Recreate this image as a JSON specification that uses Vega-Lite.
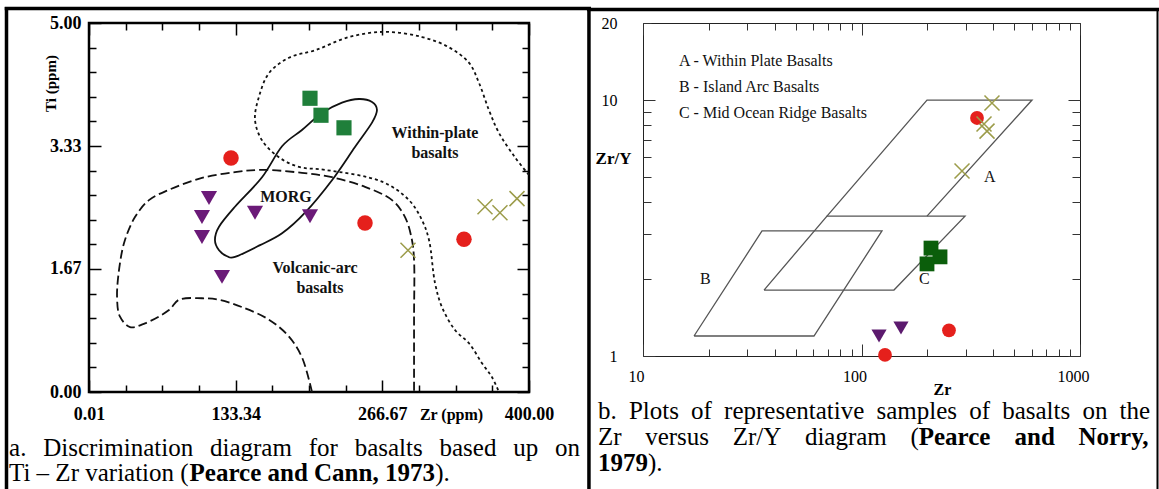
{
  "$schema": "https://vega.github.io/schema/vega-lite/v6.json",
  "padding": {"left": 1, "top": 3, "right": 0, "bottom": 0},
  "background": "white",
  "bounds": "flush",
  "spacing": 114,
  "config": {"view": {"stroke": null}, "font": "Liberation Serif", "axis": {"grid": false}},
  "datasets": {
    "curvesA": [
      {"c":"wp","i":1,"x":400,"y":2.94},{"c":"wp","i":2,"x":387.3,"y":3.18},{"c":"wp","i":3,"x":372.7,"y":3.51},{"c":"wp","i":4,"x":363.6,"y":3.82},{"c":"wp","i":5,"x":354.5,"y":4.19},{"c":"wp","i":6,"x":345.5,"y":4.46},{"c":"wp","i":7,"x":327.3,"y":4.67},{"c":"wp","i":8,"x":302.7,"y":4.81},{"c":"wp","i":9,"x":269.1,"y":4.88},{"c":"wp","i":10,"x":236.4,"y":4.81},{"c":"wp","i":11,"x":205.5,"y":4.63},{"c":"wp","i":12,"x":181.8,"y":4.53},{"c":"wp","i":13,"x":163.6,"y":4.32},{"c":"wp","i":14,"x":154.5,"y":4.0},{"c":"wp","i":15,"x":150.9,"y":3.69},{"c":"wp","i":16,"x":157.3,"y":3.41},{"c":"wp","i":17,"x":172.7,"y":3.18},{"c":"wp","i":18,"x":190.9,"y":3.05},{"c":"wp","i":19,"x":214.5,"y":3.01},{"c":"wp","i":20,"x":266.4,"y":2.85},{"c":"wp","i":21,"x":290.9,"y":2.6},{"c":"wp","i":22,"x":302.7,"y":2.33},{"c":"wp","i":23,"x":309.1,"y":2.06},{"c":"wp","i":24,"x":314.5,"y":1.48},{"c":"wp","i":25,"x":320.9,"y":1.15},{"c":"wp","i":26,"x":332.7,"y":0.84},{"c":"wp","i":27,"x":345.5,"y":0.66},{"c":"wp","i":28,"x":357.3,"y":0.39},{"c":"wp","i":29,"x":366.4,"y":0.2},{"c":"wp","i":30,"x":372.7,"y":0},
      {"c":"va","i":1,"x":202.7,"y":0},{"c":"va","i":2,"x":193.6,"y":0.47},{"c":"va","i":3,"x":181.8,"y":0.75},{"c":"va","i":4,"x":163.6,"y":0.98},{"c":"va","i":5,"x":139.1,"y":1.15},{"c":"va","i":6,"x":118.2,"y":1.25},{"c":"va","i":7,"x":102.7,"y":1.27},{"c":"va","i":8,"x":81.8,"y":1.25},{"c":"va","i":9,"x":72.7,"y":1.11},{"c":"va","i":10,"x":50.9,"y":0.93},{"c":"va","i":11,"x":37.3,"y":0.88},{"c":"va","i":12,"x":28.2,"y":1.02},{"c":"va","i":13,"x":25.5,"y":1.29},{"c":"va","i":14,"x":28.2,"y":1.75},{"c":"va","i":15,"x":32.7,"y":2.06},{"c":"va","i":16,"x":41.8,"y":2.37},{"c":"va","i":17,"x":54.5,"y":2.6},{"c":"va","i":18,"x":72.7,"y":2.74},{"c":"va","i":19,"x":102.7,"y":2.9},{"c":"va","i":20,"x":132.7,"y":2.98},{"c":"va","i":21,"x":157.3,"y":3.01},{"c":"va","i":22,"x":193.6,"y":2.97},{"c":"va","i":23,"x":220.9,"y":2.91},{"c":"va","i":24,"x":250.9,"y":2.78},{"c":"va","i":25,"x":275.5,"y":2.6},{"c":"va","i":26,"x":287.3,"y":2.37},{"c":"va","i":27,"x":293.6,"y":2.06},{"c":"va","i":28,"x":295.5,"y":1.79},{"c":"va","i":29,"x":295.5,"y":1.0},{"c":"va","i":30,"x":295.5,"y":0}
    ],
    "morbA": [
      {"i":1,"x":261.8,"y":3.82},{"i":2,"x":257.3,"y":3.93},{"i":3,"x":245.5,"y":3.97},{"i":4,"x":230.0,"y":3.92},{"i":5,"x":211.8,"y":3.78},{"i":6,"x":193.6,"y":3.55},{"i":7,"x":175.5,"y":3.33},{"i":8,"x":157.3,"y":2.91},{"i":9,"x":132.7,"y":2.51},{"i":10,"x":118.2,"y":2.24},{"i":11,"x":114.5,"y":2.06},{"i":12,"x":118.2,"y":1.92},{"i":13,"x":125.5,"y":1.84},{"i":14,"x":132.7,"y":1.83},{"i":15,"x":155.5,"y":1.99},{"i":16,"x":175.5,"y":2.15},{"i":17,"x":196.4,"y":2.43},{"i":18,"x":220.9,"y":2.87},{"i":19,"x":241.8,"y":3.32},{"i":20,"x":257.3,"y":3.65}
    ],
    "ptsA": [
      {"t":"circle","x":129.1,"y":3.17},{"t":"circle","x":250.9,"y":2.29},{"t":"circle","x":340.9,"y":2.07},
      {"t":"square","x":200.9,"y":3.98},{"t":"square","x":210.9,"y":3.75},{"t":"square","x":231.8,"y":3.58},
      {"t":"tri","x":109.1,"y":2.63},{"t":"tri","x":102.7,"y":2.37},{"t":"tri","x":150.9,"y":2.43},{"t":"tri","x":102.7,"y":2.1},{"t":"tri","x":200.9,"y":2.38},{"t":"tri","x":120.9,"y":1.56},
      {"t":"cross","x":290.0,"y":1.92},{"t":"cross","x":360.0,"y":2.51},{"t":"cross","x":373.6,"y":2.43},{"t":"cross","x":389.1,"y":2.62}
    ],
    "labA": [
      {"s":"Within-plate","x":314.5,"y":3.51},{"s":"basalts","x":314.5,"y":3.24},{"s":"MORG","x":179,"y":2.64},{"s":"Volcanic-arc","x":205.5,"y":1.68},{"s":"basalts","x":210,"y":1.41}
    ],
    "borderA": [
      {"x":-75,"x2":-75,"y":5.217,"y2":-1.5},{"x":-76.6,"x2":456.4,"y":5.197,"y2":5.197},{"x":454.5,"x2":454.5,"y":5.217,"y2":-1.5}
    ],
    "capA": [
      {"s":"a.","x":-72.7,"y":-0.867},{"s":"Discrimination","x":-41.6,"y":-0.867},{"s":"diagram","x":110,"y":-0.867},{"s":"for","x":199.7,"y":-0.867},{"s":"basalts","x":241.5,"y":-0.867},{"s":"based","x":318.6,"y":-0.867},{"s":"up","x":385.6,"y":-0.867},{"s":"on","x":423.6,"y":-0.867},
      {"s":"Ti – Zr variation (","x":-72.7,"y":-1.206},{"s":").","x":314.8,"y":-1.206}
    ],
    "capAb": [
      {"s":"Pearce and Cann, 1973","x":91.4,"y":-1.206}
    ],
    "polyB": [
      {"p":"A","i":1,"x":69.5,"y":3.52},{"p":"A","i":2,"x":199.4,"y":10},{"p":"A","i":3,"x":603,"y":10},{"p":"A","i":4,"x":199.4,"y":3.52},
      {"p":"B","i":1,"x":17.12,"y":1.197},{"p":"B","i":2,"x":35.05,"y":3.08},{"p":"B","i":3,"x":124.1,"y":3.08},{"p":"B","i":4,"x":60.6,"y":1.197},{"p":"B","i":5,"x":17.12,"y":1.197},
      {"p":"C","i":1,"x":35.8,"y":1.81},{"p":"C","i":2,"x":69.5,"y":3.52},{"p":"C","i":3,"x":297.6,"y":3.52},{"p":"C","i":4,"x":140.8,"y":1.81},{"p":"C","i":5,"x":35.8,"y":1.81}
    ],
    "ptsB": [
      {"t":"cross","x":395.5,"y":9.73},{"t":"cross","x":363.7,"y":8.06},{"t":"cross","x":375.4,"y":7.56},{"t":"cross","x":288.4,"y":5.28},
      {"t":"circle","x":337.8,"y":8.51},{"t":"circle","x":251.4,"y":1.26},{"t":"circle","x":128.1,"y":1.01},
      {"t":"square","x":208,"y":2.64},{"t":"square","x":228.7,"y":2.44},{"t":"square","x":199.4,"y":2.29},
      {"t":"tri","x":120.3,"y":1.197},{"t":"tri","x":151.6,"y":1.287}
    ],
    "labB": [
      {"s":"A - Within Plate Basalts","x":14.6,"y":14.2},{"s":"B - Island Arc Basalts","x":14.6,"y":11.24},{"s":"C - Mid Ocean Ridge Basalts","x":14.6,"y":8.897},
      {"s":"A","x":363.6,"y":5.003},{"s":"B","x":18.24,"y":2.0},{"s":"C","x":183.4,"y":2.0}
    ],
    "borderB": [
      {"side":"top","x":5.54,"x2":2299,"y":22.57,"y2":22.57},{"side":"right","x":2263,"x2":2263,"y":22.9,"y2":0.264}
    ],
    "capB": [
      {"s":"b.","x":6.226,"y":0.5675},{"s":"Plots","x":8.62,"y":0.5675},{"s":"of","x":16.6,"y":0.5675},{"s":"representative","x":23.51,"y":0.5675},{"s":"samples","x":117.1,"y":0.5675},{"s":"of","x":311.4,"y":0.5675},{"s":"basalts","x":440.5,"y":0.5675},{"s":"on","x":1025.6,"y":0.5675},{"s":"the","x":1518,"y":0.5675},
      {"s":"Zr","x":6.226,"y":0.449},{"s":"versus","x":10.23,"y":0.449},{"s":"Zr/Y","x":25.73,"y":0.449},{"s":"diagram","x":55.08,"y":0.449},{"s":"(","x":167.4,"y":0.449},
      {"s":").","x":10.54,"y":0.3554}
    ],
    "capBb": [
      {"s":"Pearce","x":182.7,"y":0.449},{"s":"and","x":501.5,"y":0.449},{"s":"Norry,","x":983.3,"y":0.449},{"s":"1979","x":6.226,"y":0.3554}
    ]
  },
  "hconcat": [
    {
      "width": 440,
      "height": 369,
      "view": {"stroke": "black", "strokeWidth": 2.5},
      "resolve": {"axis": {"x": "independent", "y": "independent"}},
      "layer": [
        {
          "data": {"name": "curvesA"},
          "mark": {"type": "line", "interpolate": "catmull-rom", "color": "#111", "strokeWidth": 1.8, "clip": true},
          "encoding": {
            "x": {"field": "x", "type": "quantitative", "scale": {"domain": [0, 400], "nice": false, "zero": false},
              "axis": {"orient": "bottom", "values": [0.01, 133.34, 266.67, 400], "format": ".2f", "ticks": false, "tickSize": 0, "domain": false, "grid": false,
                "labelFont": "Liberation Serif", "labelFontWeight": "bold", "labelFontSize": 18, "labelColor": "black", "labelPadding": 13, "labelFlush": false, "labelOverlap": false,
                "title": "Zr (ppm)", "titleFont": "Liberation Serif", "titleFontWeight": "bold", "titleFontSize": 16, "titleColor": "black", "titleX": 362, "titleY": 22, "titleAlign": "center", "titleBaseline": "middle"}},
            "y": {"field": "y", "type": "quantitative", "scale": {"domain": [0, 5], "nice": false, "zero": false},
              "axis": {"orient": "left", "values": [0, 1.6667, 3.3333, 5], "format": ".2f", "ticks": false, "tickSize": 0, "domain": false, "grid": false,
                "labelFont": "Liberation Serif", "labelFontWeight": "bold", "labelFontSize": 18, "labelColor": "black", "labelPadding": 8, "labelFlush": false, "labelOverlap": false,
                "title": "Ti (ppm)", "titleFont": "Liberation Serif", "titleFontWeight": "bold", "titleFontSize": 15, "titleColor": "black", "titleX": -39, "titleY": 60, "titleAngle": 270, "titleAlign": "center", "titleBaseline": "middle"}},
            "detail": {"field": "c", "type": "nominal"},
            "order": {"field": "i", "type": "quantitative"},
            "strokeDash": {"field": "c", "type": "nominal", "scale": {"domain": ["wp", "va"], "range": [[3, 3], [9, 4]]}, "legend": null}
          }
        },
        {
          "data": {"name": "morbA"},
          "mark": {"type": "line", "interpolate": "cardinal-closed", "color": "#111", "strokeWidth": 1.8, "clip": true},
          "encoding": {
            "x": {"field": "x", "type": "quantitative", "scale": {"domain": [0, 400], "nice": false, "zero": false}, "axis": null},
            "y": {"field": "y", "type": "quantitative", "scale": {"domain": [0, 5], "nice": false, "zero": false}, "axis": null},
            "order": {"field": "i", "type": "quantitative"}
          }
        },
        {
          "data": {"name": "ptsA"},
          "transform": [{"filter": "datum.t == 'circle'"}],
          "mark": {"type": "point", "shape": "circle", "filled": true, "color": "#e5201c", "opacity": 1, "size": 240},
          "encoding": {
            "x": {"field": "x", "type": "quantitative", "scale": {"domain": [0, 400], "nice": false, "zero": false},
              "axis": {"orient": "bottom", "values": [0, 33.333, 66.667, 100, 133.333, 166.667, 200, 233.333, 266.667, 300, 333.333, 366.667, 400], "labels": false, "domain": false, "grid": false, "title": null, "tickColor": "black", "tickWidth": 1.5,
                "tickSize": {"condition": {"test": "indexof([0, 133.333, 266.667, 400], datum.value) >= 0", "value": -12}, "value": -7}}},
            "y": {"field": "y", "type": "quantitative", "scale": {"domain": [0, 5], "nice": false, "zero": false},
              "axis": {"orient": "left", "values": [0, 0.3333, 0.6667, 1, 1.3333, 1.6667, 2, 2.3333, 2.6667, 3, 3.3333, 3.6667, 4, 4.3333, 4.6667, 5], "labels": false, "domain": false, "grid": false, "title": null, "tickColor": "black", "tickWidth": 1.5,
                "tickSize": {"condition": {"test": "indexof([0, 1.6667, 3.3333, 5], datum.value) >= 0", "value": -12}, "value": -7}}}
          }
        },
        {
          "data": {"name": "ptsA"},
          "transform": [{"filter": "datum.t == 'square'"}],
          "mark": {"type": "point", "shape": "square", "filled": true, "color": "#1f7f3a", "opacity": 1, "size": 230},
          "encoding": {
            "x": {"field": "x", "type": "quantitative", "scale": {"domain": [0, 400], "nice": false, "zero": false}, "axis": null},
            "y": {"field": "y", "type": "quantitative", "scale": {"domain": [0, 5], "nice": false, "zero": false}, "axis": null}
          }
        },
        {
          "data": {"name": "ptsA"},
          "transform": [{"filter": "datum.t == 'tri'"}],
          "mark": {"type": "point", "shape": "triangle-down", "filled": true, "color": "#6b1a78", "opacity": 1, "size": 260},
          "encoding": {
            "x": {"field": "x", "type": "quantitative", "scale": {"domain": [0, 400], "nice": false, "zero": false}, "axis": null},
            "y": {"field": "y", "type": "quantitative", "scale": {"domain": [0, 5], "nice": false, "zero": false}, "axis": null}
          }
        },
        {
          "data": {"name": "ptsA"},
          "transform": [{"filter": "datum.t == 'cross'"}],
          "mark": {"type": "point", "shape": "M-1,-1L1,1M-1,1L1,-1", "filled": false, "color": "#9c9c4a", "opacity": 1, "strokeWidth": 1.5, "size": 225},
          "encoding": {
            "x": {"field": "x", "type": "quantitative", "scale": {"domain": [0, 400], "nice": false, "zero": false},
              "axis": {"orient": "top", "values": [0, 33.333, 66.667, 100, 133.333, 166.667, 200, 233.333, 266.667, 300, 333.333, 366.667, 400], "labels": false, "domain": false, "grid": false, "title": null, "tickColor": "black", "tickWidth": 1.5,
                "tickSize": {"condition": {"test": "indexof([0, 133.333, 266.667, 400], datum.value) >= 0", "value": -12}, "value": -7}}},
            "y": {"field": "y", "type": "quantitative", "scale": {"domain": [0, 5], "nice": false, "zero": false},
              "axis": {"orient": "right", "values": [0, 0.3333, 0.6667, 1, 1.3333, 1.6667, 2, 2.3333, 2.6667, 3, 3.3333, 3.6667, 4, 4.3333, 4.6667, 5], "labels": false, "domain": false, "grid": false, "title": null, "tickColor": "black", "tickWidth": 1.5,
                "tickSize": {"condition": {"test": "indexof([0, 1.6667, 3.3333, 5], datum.value) >= 0", "value": -12}, "value": -7}}}
          }
        },
        {
          "data": {"name": "labA"},
          "mark": {"type": "text", "font": "Liberation Serif", "fontWeight": "bold", "fontSize": 16, "color": "#111", "align": "center", "baseline": "middle"},
          "encoding": {
            "x": {"field": "x", "type": "quantitative", "scale": {"domain": [0, 400], "nice": false, "zero": false}, "axis": null},
            "y": {"field": "y", "type": "quantitative", "scale": {"domain": [0, 5], "nice": false, "zero": false}, "axis": null},
            "text": {"field": "s", "type": "nominal"}
          }
        },
        {
          "data": {"name": "borderA"},
          "mark": {"type": "rule", "color": "black", "strokeWidth": 3.5},
          "encoding": {
            "x": {"field": "x", "type": "quantitative", "scale": {"domain": [0, 400], "nice": false, "zero": false}, "axis": null},
            "x2": {"field": "x2"},
            "y": {"field": "y", "type": "quantitative", "scale": {"domain": [0, 5], "nice": false, "zero": false}, "axis": null},
            "y2": {"field": "y2"}
          }
        },
        {
          "data": {"name": "capA"},
          "mark": {"type": "text", "font": "Liberation Serif", "fontSize": 25, "color": "black", "align": "left", "baseline": "alphabetic"},
          "encoding": {
            "x": {"field": "x", "type": "quantitative", "scale": {"domain": [0, 400], "nice": false, "zero": false}, "axis": null},
            "y": {"field": "y", "type": "quantitative", "scale": {"domain": [0, 5], "nice": false, "zero": false}, "axis": null},
            "text": {"field": "s", "type": "nominal"}
          }
        },
        {
          "data": {"name": "capAb"},
          "mark": {"type": "text", "font": "Liberation Serif", "fontWeight": "bold", "fontSize": 25, "color": "black", "align": "left", "baseline": "alphabetic"},
          "encoding": {
            "x": {"field": "x", "type": "quantitative", "scale": {"domain": [0, 400], "nice": false, "zero": false}, "axis": null},
            "y": {"field": "y", "type": "quantitative", "scale": {"domain": [0, 5], "nice": false, "zero": false}, "axis": null},
            "text": {"field": "s", "type": "nominal"}
          }
        }
      ]
    },
    {
      "width": 437,
      "height": 333,
      "view": {"stroke": "#222", "strokeWidth": 1},
      "resolve": {"axis": {"x": "independent", "y": "independent"}},
      "layer": [
        {
          "data": {"name": "polyB"},
          "mark": {"type": "line", "color": "#555", "strokeWidth": 1.3},
          "encoding": {
            "x": {"field": "x", "type": "quantitative", "scale": {"type": "log", "domain": [10, 1000], "nice": false},
              "axis": {"orient": "bottom", "values": [10, 100, 1000], "format": "d", "ticks": false, "tickSize": 0, "domain": false, "grid": false,
                "labelFont": "Liberation Serif", "labelFontSize": 16, "labelColor": "black", "labelPadding": 12, "labelOffset": -7, "labelFlush": false, "labelOverlap": false,
                "title": "Zr", "titleFont": "Liberation Serif", "titleFontWeight": "bold", "titleFontSize": 16, "titleColor": "black", "titleX": 299, "titleY": 33, "titleAlign": "center", "titleBaseline": "middle"}},
            "y": {"field": "y", "type": "quantitative", "scale": {"type": "log", "domain": [1, 20], "nice": false},
              "axis": {"orient": "left", "values": [1, 10, 20], "format": "d", "ticks": false, "tickSize": 0, "domain": false, "grid": false,
                "labelFont": "Liberation Serif", "labelFontSize": 16, "labelColor": "black", "labelPadding": 26, "labelFlush": false, "labelOverlap": false,
                "title": "Zr/Y", "titleFont": "Liberation Serif", "titleFontWeight": "bold", "titleFontSize": 17, "titleColor": "black", "titleX": -30, "titleY": 135, "titleAngle": 0, "titleAlign": "center", "titleBaseline": "middle"}},
            "detail": {"field": "p", "type": "nominal"},
            "order": {"field": "i", "type": "quantitative"}
          }
        },
        {
          "data": {"name": "ptsB"},
          "transform": [{"filter": "datum.t == 'circle'"}],
          "mark": {"type": "point", "shape": "circle", "filled": true, "color": "#e5201c", "opacity": 1, "size": 190},
          "encoding": {
            "x": {"field": "x", "type": "quantitative", "scale": {"type": "log", "domain": [10, 1000], "nice": false},
              "axis": {"orient": "bottom", "values": [10, 20, 30, 40, 50, 60, 70, 80, 90, 100, 200, 300, 400, 500, 600, 700, 800, 900, 1000], "labels": false, "domain": false, "grid": false, "title": null, "tickColor": "#333", "tickWidth": 1,
                "tickSize": {"condition": {"test": "indexof([10, 100, 1000], datum.value) >= 0", "value": -12}, "value": -7}}},
            "y": {"field": "y", "type": "quantitative", "scale": {"type": "log", "domain": [1, 20], "nice": false},
              "axis": {"orient": "left", "values": [1, 2, 3, 4, 5, 6, 7, 8, 9, 10, 20], "labels": false, "domain": false, "grid": false, "title": null, "tickColor": "#333", "tickWidth": 1,
                "tickSize": {"condition": {"test": "indexof([1, 10], datum.value) >= 0", "value": -12}, "value": -8}}}
          }
        },
        {
          "data": {"name": "ptsB"},
          "transform": [{"filter": "datum.t == 'square'"}],
          "mark": {"type": "point", "shape": "square", "filled": true, "color": "#0b5e0b", "opacity": 1, "size": 220},
          "encoding": {
            "x": {"field": "x", "type": "quantitative", "scale": {"type": "log", "domain": [10, 1000], "nice": false}, "axis": null},
            "y": {"field": "y", "type": "quantitative", "scale": {"type": "log", "domain": [1, 20], "nice": false}, "axis": null}
          }
        },
        {
          "data": {"name": "ptsB"},
          "transform": [{"filter": "datum.t == 'tri'"}],
          "mark": {"type": "point", "shape": "triangle-down", "filled": true, "color": "#5c1a6e", "opacity": 1, "size": 230},
          "encoding": {
            "x": {"field": "x", "type": "quantitative", "scale": {"type": "log", "domain": [10, 1000], "nice": false}, "axis": null},
            "y": {"field": "y", "type": "quantitative", "scale": {"type": "log", "domain": [1, 20], "nice": false}, "axis": null}
          }
        },
        {
          "data": {"name": "ptsB"},
          "transform": [{"filter": "datum.t == 'cross'"}],
          "mark": {"type": "point", "shape": "M-1,-1L1,1M-1,1L1,-1", "filled": false, "color": "#9c9c4a", "opacity": 1, "strokeWidth": 1.5, "size": 225},
          "encoding": {
            "x": {"field": "x", "type": "quantitative", "scale": {"type": "log", "domain": [10, 1000], "nice": false},
              "axis": {"orient": "top", "values": [10, 20, 30, 40, 50, 60, 70, 80, 90, 100, 200, 300, 400, 500, 600, 700, 800, 900, 1000], "labels": false, "domain": false, "grid": false, "title": null, "tickColor": "#333", "tickWidth": 1,
                "tickSize": {"condition": {"test": "indexof([10, 100, 1000], datum.value) >= 0", "value": -12}, "value": -7}}},
            "y": {"field": "y", "type": "quantitative", "scale": {"type": "log", "domain": [1, 20], "nice": false},
              "axis": {"orient": "right", "values": [1, 2, 3, 4, 5, 6, 7, 8, 9, 10, 20], "labels": false, "domain": false, "grid": false, "title": null, "tickColor": "#333", "tickWidth": 1,
                "tickSize": {"condition": {"test": "indexof([1, 10], datum.value) >= 0", "value": -12}, "value": -8}}}
          }
        },
        {
          "data": {"name": "labB"},
          "mark": {"type": "text", "font": "Liberation Serif", "fontSize": 16, "color": "#111", "align": "left", "baseline": "middle"},
          "encoding": {
            "x": {"field": "x", "type": "quantitative", "scale": {"type": "log", "domain": [10, 1000], "nice": false}, "axis": null},
            "y": {"field": "y", "type": "quantitative", "scale": {"type": "log", "domain": [1, 20], "nice": false}, "axis": null},
            "text": {"field": "s", "type": "nominal"}
          }
        },
        {
          "data": {"name": "borderB"},
          "transform": [{"filter": "datum.side == 'top'"}],
          "mark": {"type": "rule", "color": "black", "strokeWidth": 3.5},
          "encoding": {
            "x": {"field": "x", "type": "quantitative", "scale": {"type": "log", "domain": [10, 1000], "nice": false}, "axis": null},
            "x2": {"field": "x2"},
            "y": {"field": "y", "type": "quantitative", "scale": {"type": "log", "domain": [1, 20], "nice": false}, "axis": null},
            "y2": {"field": "y2"}
          }
        },
        {
          "data": {"name": "borderB"},
          "transform": [{"filter": "datum.side == 'right'"}],
          "mark": {"type": "rule", "color": "black", "strokeWidth": 2},
          "encoding": {
            "x": {"field": "x", "type": "quantitative", "scale": {"type": "log", "domain": [10, 1000], "nice": false}, "axis": null},
            "x2": {"field": "x2"},
            "y": {"field": "y", "type": "quantitative", "scale": {"type": "log", "domain": [1, 20], "nice": false}, "axis": null},
            "y2": {"field": "y2"}
          }
        },
        {
          "data": {"name": "capB"},
          "mark": {"type": "text", "font": "Liberation Serif", "fontSize": 25, "color": "black", "align": "left", "baseline": "alphabetic"},
          "encoding": {
            "x": {"field": "x", "type": "quantitative", "scale": {"type": "log", "domain": [10, 1000], "nice": false}, "axis": null},
            "y": {"field": "y", "type": "quantitative", "scale": {"type": "log", "domain": [1, 20], "nice": false}, "axis": null},
            "text": {"field": "s", "type": "nominal"}
          }
        },
        {
          "data": {"name": "capBb"},
          "mark": {"type": "text", "font": "Liberation Serif", "fontWeight": "bold", "fontSize": 25, "color": "black", "align": "left", "baseline": "alphabetic"},
          "encoding": {
            "x": {"field": "x", "type": "quantitative", "scale": {"type": "log", "domain": [10, 1000], "nice": false}, "axis": null},
            "y": {"field": "y", "type": "quantitative", "scale": {"type": "log", "domain": [1, 20], "nice": false}, "axis": null},
            "text": {"field": "s", "type": "nominal"}
          }
        }
      ]
    }
  ]
}
